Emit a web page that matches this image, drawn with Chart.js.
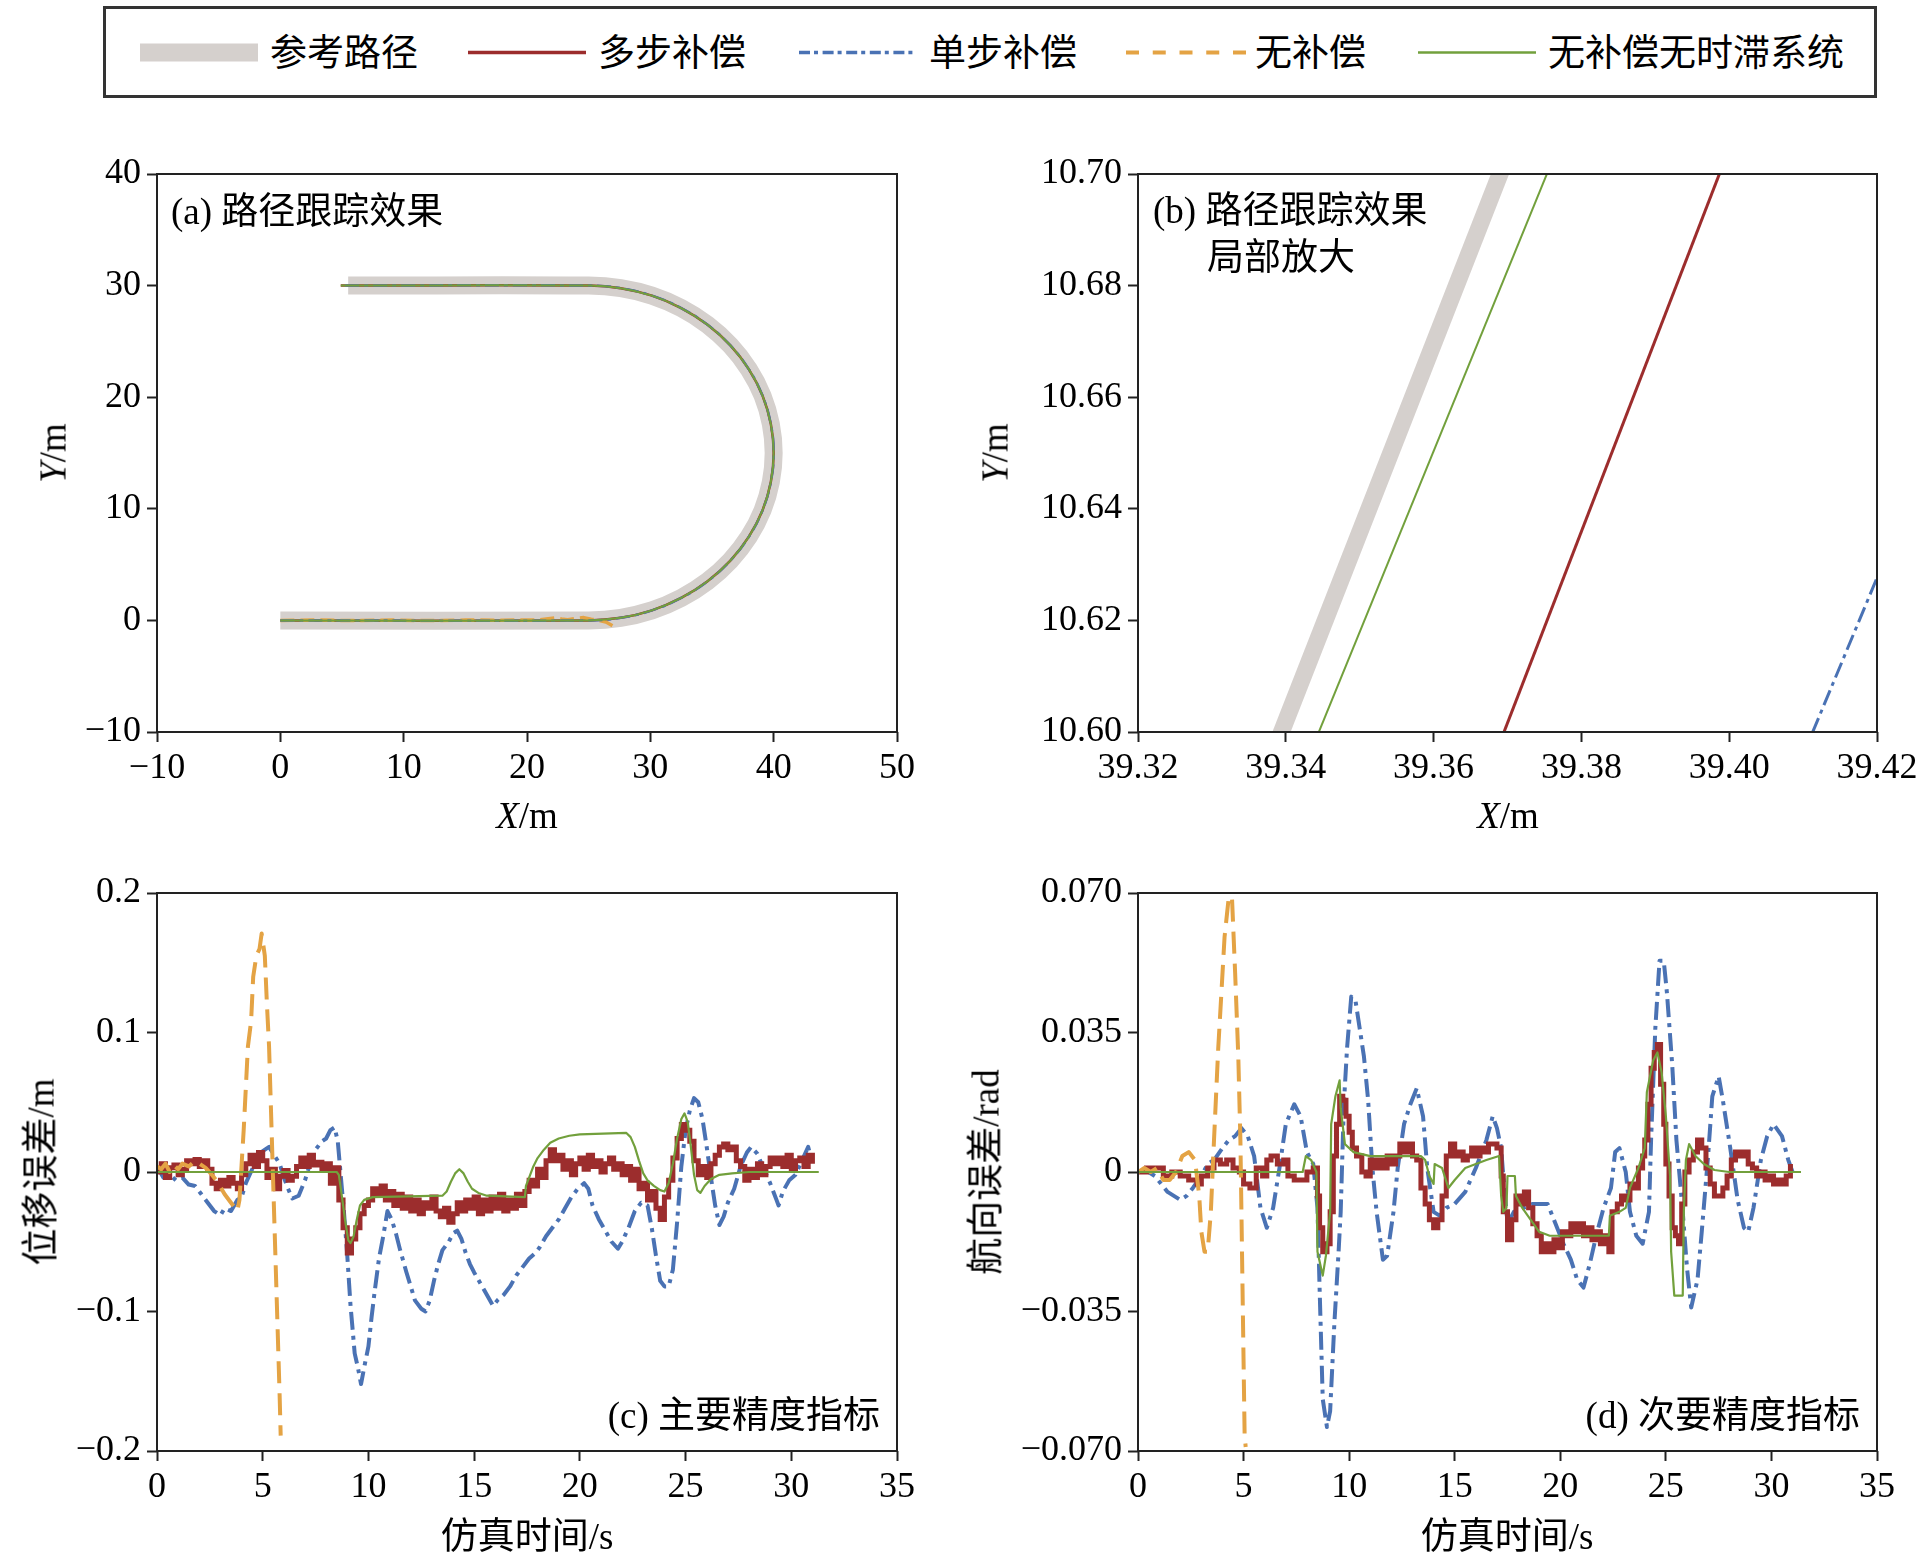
<!DOCTYPE html>
<html>
<head>
<meta charset="utf-8">
<script src="https://cdn.jsdelivr.net/npm/chart.js@4/dist/chart.umd.min.js"></script>
<style>
  html, body { margin:0; padding:0; background:#fff; }
  body { width:1923px; height:1559px; position:relative; overflow:hidden;
         font-family:'Liberation Serif','Noto Sans CJK SC',serif; color:#000; }
  canvas { position:absolute; }
  .t { position:absolute; white-space:nowrap; font-size:37px; line-height:1; transform:translateY(-50%); }
  .c { transform:translate(-50%,-50%); }
  .r90 { transform:translate(-50%,-50%) rotate(-90deg); }
  .rt { position:absolute; white-space:nowrap; font-size:37px; line-height:1; transform:translateY(-50%); text-align:right; }
  #legend { position:absolute; left:103px; top:6px; width:1774px; height:92px; box-sizing:border-box; border:3px solid #333; }
</style>
</head>
<body>

<div id="legend"></div>
<svg style="position:absolute;left:0;top:0" width="1923" height="110">
  <line x1="140" y1="52.5" x2="258" y2="52.5" stroke="#d5d0cd" stroke-width="18"/>
  <line x1="468" y1="52.5" x2="586" y2="52.5" stroke="#9c2d2d" stroke-width="3.5"/>
  <line x1="799" y1="52.5" x2="917" y2="52.5" stroke="#4a72b4" stroke-width="3.5" stroke-dasharray="11 4 4 4.6"/>
  <line x1="1126" y1="52.5" x2="1246" y2="52.5" stroke="#e4a344" stroke-width="4" stroke-dasharray="13 13.75"/>
  <line x1="1418" y1="52.5" x2="1536" y2="52.5" stroke="#72a03c" stroke-width="2.5"/>
</svg>
<div class="t" style="left:270px;top:52.5px">参考路径</div>
<div class="t" style="left:598px;top:52.5px">多步补偿</div>
<div class="t" style="left:929px;top:52.5px">单步补偿</div>
<div class="t" style="left:1255px;top:52.5px">无补偿</div>
<div class="t" style="left:1548px;top:52.5px">无补偿无时滞系统</div>

<canvas id="cA" width="940" height="720" style="left:0px;top:110px"></canvas>
<canvas id="cB" width="963" height="720" style="left:960px;top:110px"></canvas>
<canvas id="cC" width="940" height="719" style="left:0px;top:840px"></canvas>
<canvas id="cD" width="963" height="719" style="left:960px;top:840px"></canvas>

<div class="t" style="left:171px;top:211px">(a) 路径跟踪效果</div>
<div class="t" style="left:1153px;top:210px">(b) 路径跟踪效果</div>
<div class="t" style="left:1207px;top:257px">局部放大</div>
<div class="rt" style="right:1043px;top:1415px">(c) 主要精度指标</div>
<div class="rt" style="right:63px;top:1415px">(d) 次要精度指标</div>

<div class="t c" style="left:527px;top:815px"><i>X</i>/m</div>
<div class="t c" style="left:1508px;top:815px"><i>X</i>/m</div>
<div class="t r90" style="left:53px;top:453px"><i>Y</i>/m</div>
<div class="t r90" style="left:995px;top:453px"><i>Y</i>/m</div>
<div class="t c" style="left:527px;top:1536px">仿真时间/s</div>
<div class="t c" style="left:1507px;top:1536px">仿真时间/s</div>
<div class="t r90" style="left:41px;top:1172px">位移误差/m</div>
<div class="t r90" style="left:986px;top:1172px">航向误差/rad</div>

<script>
// ---------------- tick labels ----------------
const ticksA_X = [-10, 0, 10, 20, 30, 40, 50];
const labelsA_X = ['\u221210', '0', '10', '20', '30', '40', '50'];
const ticksA_Y = [-10, 0, 10, 20, 30, 40];
const labelsA_Y = ['\u221210', '0', '10', '20', '30', '40'];
const ticksB_X = [39.32, 39.34, 39.36, 39.38, 39.40, 39.42];
const labelsB_X = ['39.32', '39.34', '39.36', '39.38', '39.40', '39.42'];
const ticksB_Y = [10.60, 10.62, 10.64, 10.66, 10.68, 10.70];
const labelsB_Y = ['10.60', '10.62', '10.64', '10.66', '10.68', '10.70'];
const ticksT = [0, 5, 10, 15, 20, 25, 30, 35];
const labelsT = ['0', '5', '10', '15', '20', '25', '30', '35'];
const ticksC_Y = [-0.2, -0.1, 0, 0.1, 0.2];
const labelsC_Y = ['\u22120.2', '\u22120.1', '0', '0.1', '0.2'];
const ticksD_Y = [-0.07, -0.035, 0, 0.035, 0.07];
const labelsD_Y = ['\u22120.070', '\u22120.035', '0', '0.035', '0.070'];

// ---------------- (a) path tracking ----------------
const refPathX = [0, 25, 27.60, 30.13, 32.50, 34.64, 36.49, 37.99, 39.10, 39.77, 40, 39.77, 39.10, 37.99, 36.49, 34.64, 32.50, 30.13, 27.60, 25, 5.5];
const refPathY = [0, 0, 0.23, 0.90, 2.01, 3.51, 5.36, 7.50, 9.87, 12.40, 15, 17.60, 20.13, 22.50, 24.64, 26.49, 27.99, 29.10, 29.77, 30, 30];
const trackPathX = [0, 25, 27.60, 30.13, 32.50, 34.64, 36.49, 37.99, 39.10, 39.77, 40, 39.77, 39.10, 37.99, 36.49, 34.64, 32.50, 30.13, 27.60, 25, 4.9];
const trackPathY = [0, 0, 0.23, 0.90, 2.01, 3.51, 5.36, 7.50, 9.87, 12.40, 15, 17.60, 20.13, 22.50, 24.64, 26.49, 27.99, 29.10, 29.77, 30, 30];
const noCompPathX = [0, 3, 6, 9, 12, 15, 18, 21, 22.3, 22.8, 23.3, 24.0, 24.6, 25.2, 25.8, 26.4, 26.9, 27.3];
const noCompPathY = [0, 0.03, -0.02, 0.03, -0.02, 0.03, 0.02, 0.05, 0.22, 0.12, 0.05, 0.18, 0.25, 0.1, 0.02, -0.15, -0.45, -0.7];

// ---------------- (b) zoomed path ----------------
const zoomRefX = [39.3335, 39.3749];
const zoomRefY = [10.58, 10.72];
const zoomGreenX = [39.3383, 39.3815];
const zoomGreenY = [10.58, 10.72];
const zoomRedX = [39.3637, 39.4045];
const zoomRedY = [10.58, 10.72];
const zoomBlueX = [39.4050, 39.4302];
const zoomBlueY = [10.58, 10.66];

// ---------------- (c) displacement error ----------------
const tRedC = [0.0,0.2,0.4,0.6,0.8,1.0,1.2,1.4,1.6,1.8,2.0,2.2,2.4,2.6,2.8,3.0,3.2,3.4,3.6,3.8,4.0,4.2,4.4,4.6,4.8,5.0,5.2,5.4,5.6,5.8,6.0,6.2,6.4,6.6,6.8,7.0,7.2,7.4,7.6,7.8,8.0,8.2,8.4,8.6,8.8,9.0,9.2,9.4,9.6,9.8,10.0,10.2,10.4,10.6,10.8,11.0,11.2,11.4,11.6,11.8,12.0,12.2,12.4,12.6,12.8,13.0,13.2,13.4,13.6,13.8,14.0,14.2,14.4,14.6,14.8,15.0,15.2,15.4,15.6,15.8,16.0,16.2,16.4,16.6,16.8,17.0,17.2,17.4,17.6,17.8,18.0,18.2,18.4,18.6,18.8,19.0,19.2,19.4,19.6,19.8,20.0,20.2,20.4,20.6,20.8,21.0,21.2,21.4,21.6,21.8,22.0,22.2,22.4,22.6,22.8,23.0,23.2,23.4,23.6,23.8,24.0,24.2,24.4,24.6,24.8,25.0,25.2,25.4,25.6,25.8,26.0,26.2,26.4,26.6,26.8,27.0,27.2,27.4,27.6,27.8,28.0,28.2,28.4,28.6,28.8,29.0,29.2,29.4,29.6,29.8,30.0,30.2,30.4,30.6,30.8,31.0];
const vRedC = [0.000,0.006,-0.004,0.003,0.005,-0.002,0.002,0.008,0.006,0.009,0.004,0.008,0.002,-0.008,-0.012,-0.006,-0.010,-0.004,-0.008,-0.012,-0.002,0.006,0.012,0.004,0.014,0.008,-0.004,0.002,-0.012,-0.003,0.001,-0.006,-0.003,0.004,0.010,0.004,0.012,0.005,0.007,0.002,0.006,-0.008,0.003,-0.020,-0.040,-0.058,-0.048,-0.040,-0.030,-0.024,-0.020,-0.012,-0.016,-0.010,-0.020,-0.014,-0.024,-0.016,-0.026,-0.018,-0.028,-0.020,-0.030,-0.022,-0.026,-0.018,-0.028,-0.032,-0.026,-0.036,-0.030,-0.022,-0.028,-0.020,-0.026,-0.018,-0.030,-0.020,-0.028,-0.018,-0.026,-0.016,-0.028,-0.020,-0.026,-0.016,-0.024,-0.014,-0.006,-0.010,0.002,-0.004,0.008,0.016,0.008,0.012,0.002,0.008,-0.002,0.006,0.010,0.002,0.012,0.004,0.008,0.000,0.006,0.010,0.002,0.006,-0.002,0.004,-0.006,0.002,-0.012,-0.008,-0.020,-0.014,-0.026,-0.034,-0.018,-0.006,0.010,0.024,0.034,0.030,0.022,0.008,-0.002,0.004,-0.004,0.006,0.012,0.018,0.020,0.016,0.018,0.008,0.004,-0.006,0.002,-0.004,0.006,-0.002,0.004,0.010,0.006,0.010,0.004,0.012,0.002,0.008,0.010,0.004,0.012,0.006];

const tBlueC = [0.0,0.3,0.6,0.9,1.2,1.5,1.8,2.1,2.4,2.7,3.0,3.2,3.5,3.8,4.0,4.2,4.5,4.8,5.0,5.3,5.5,5.8,6.0,6.2,6.4,6.7,7.0,7.2,7.5,7.8,8.0,8.2,8.4,8.55,8.7,8.85,9.0,9.15,9.35,9.5,9.65,9.8,10.0,10.15,10.3,10.5,10.7,10.9,11.1,11.3,11.5,11.8,12.0,12.2,12.5,12.7,12.9,13.1,13.3,13.5,13.8,14.0,14.2,14.4,14.6,14.8,15.0,15.3,15.6,15.9,16.1,16.4,16.7,17.0,17.3,17.6,17.9,18.1,18.4,18.7,19.0,19.3,19.6,19.9,20.2,20.4,20.6,20.9,21.2,21.5,21.8,22.0,22.3,22.6,22.9,23.2,23.4,23.6,23.8,24.0,24.2,24.4,24.6,24.8,25.0,25.2,25.4,25.6,25.8,26.0,26.2,26.4,26.6,26.8,27.0,27.3,27.6,27.9,28.1,28.4,28.7,29.0,29.3,29.4,29.6,29.9,30.2,30.5,30.8,30.9];
const vBlueC = [0.004,-0.004,-0.002,-0.006,-0.004,-0.009,-0.010,-0.016,-0.022,-0.028,-0.031,-0.026,-0.028,-0.020,-0.018,-0.008,0.002,0.010,0.015,0.018,0.013,0.006,-0.004,-0.012,-0.019,-0.017,-0.006,0.004,0.016,0.022,0.024,0.030,0.032,0.022,-0.004,-0.030,-0.060,-0.095,-0.130,-0.140,-0.152,-0.140,-0.125,-0.104,-0.085,-0.062,-0.046,-0.028,-0.034,-0.044,-0.056,-0.072,-0.082,-0.092,-0.098,-0.100,-0.092,-0.078,-0.066,-0.056,-0.050,-0.044,-0.042,-0.048,-0.058,-0.066,-0.072,-0.080,-0.088,-0.096,-0.092,-0.088,-0.082,-0.074,-0.068,-0.062,-0.058,-0.054,-0.046,-0.040,-0.034,-0.026,-0.018,-0.012,-0.008,-0.012,-0.024,-0.034,-0.042,-0.050,-0.055,-0.050,-0.040,-0.028,-0.022,-0.024,-0.040,-0.060,-0.078,-0.082,-0.082,-0.070,-0.036,0.004,0.030,0.044,0.053,0.050,0.038,0.018,-0.004,-0.024,-0.038,-0.032,-0.022,-0.012,0.004,0.014,0.018,0.013,0.002,-0.008,-0.020,-0.024,-0.014,-0.006,-0.002,0.008,0.018,0.012];

const tGreenC = [0,8.5,8.6,8.75,8.9,9.05,9.15,9.3,9.45,9.6,9.8,10.2,13.5,13.7,13.9,14.1,14.3,14.5,14.7,14.9,15.2,15.6,17.4,17.45,17.6,17.8,18.0,18.3,18.6,19.0,19.5,20.0,22.2,22.4,22.6,22.8,23.0,23.2,23.5,23.8,24.0,24.2,24.4,24.6,24.8,24.95,25.1,25.25,25.4,25.55,25.7,25.9,26.2,26.6,27.2,28,31.3];
const vGreenC = [0,0,-0.002,-0.018,-0.035,-0.049,-0.051,-0.046,-0.034,-0.024,-0.020,-0.018,-0.017,-0.014,-0.007,-0.001,0.002,-0.001,-0.007,-0.012,-0.015,-0.017,-0.018,-0.010,-0.004,0.004,0.010,0.016,0.021,0.024,0.026,0.027,0.028,0.025,0.018,0.008,-0.001,-0.006,-0.010,-0.013,-0.014,-0.008,0.006,0.024,0.038,0.042,0.036,0.018,-0.002,-0.013,-0.015,-0.010,-0.005,-0.002,-0.001,0,0];

const tOrangeC = [0.0,0.2,0.4,0.6,0.8,1.0,1.2,1.5,1.8,2.0,2.3,2.6,2.9,3.2,3.5,3.8,3.9,4.0,4.1,4.2,4.3,4.45,4.55,4.7,4.85,4.95,5.1,5.2,5.3,5.4,5.5,5.6,5.7,5.8,5.85];
const vOrangeC = [0.004,0.002,0.006,0.000,0.005,0.002,0.006,0.004,0.008,0.006,0.003,-0.002,-0.008,-0.016,-0.022,-0.028,-0.020,0.005,0.030,0.060,0.090,0.108,0.140,0.155,0.160,0.171,0.155,0.120,0.090,0.040,-0.010,-0.060,-0.110,-0.160,-0.189];

// ---------------- (d) heading error ----------------
const tBlueD = [0.0,0.5,0.8,1.1,1.4,1.7,2.0,2.3,2.6,3.0,3.3,3.6,4.0,4.3,4.6,4.9,5.2,5.5,5.8,6.1,6.4,6.7,7.0,7.4,7.7,8.0,8.3,8.5,8.6,8.75,8.95,9.1,9.3,9.5,9.6,9.75,9.9,10.1,10.3,10.5,10.7,10.9,11.1,11.3,11.6,11.8,12.1,12.3,12.6,12.9,13.2,13.5,13.7,14.0,14.3,14.6,15.0,15.5,16.0,16.5,16.8,17.0,17.2,17.3,17.5,17.8,18.25,18.7,19.4,19.7,20.15,20.5,20.8,21.1,21.4,21.7,22.05,22.4,22.6,22.8,23.1,23.3,23.6,23.9,24.2,24.3,24.5,24.7,24.9,25.05,25.3,25.5,25.8,26.0,26.2,26.5,26.7,27.0,27.2,27.5,27.7,28.05,28.4,28.7,28.9,29.15,29.5,29.8,30.1,30.5,30.8,31.0];
const vBlueD = [0,0.000,-0.001,-0.003,-0.005,-0.006,-0.007,-0.006,-0.004,-0.001,0.002,0.003,0.006,0.008,0.009,0.011,0.009,0.004,-0.009,-0.014,-0.009,0.001,0.012,0.017,0.014,0.005,0.002,-0.009,-0.029,-0.057,-0.064,-0.060,-0.038,-0.020,-0.010,0.017,0.031,0.044,0.043,0.036,0.029,0.018,0.001,-0.010,-0.022,-0.021,-0.010,0.001,0.012,0.017,0.021,0.014,0.001,-0.010,-0.011,-0.009,-0.008,-0.005,0.001,0.008,0.014,0.011,0.006,-0.001,-0.013,-0.010,-0.009,-0.008,-0.008,-0.012,-0.018,-0.022,-0.027,-0.029,-0.023,-0.016,-0.009,-0.004,0.005,0.006,0.000,-0.010,-0.016,-0.018,-0.010,0.008,0.036,0.053,0.053,0.045,0.027,0.008,-0.010,-0.024,-0.034,-0.027,-0.015,0.004,0.019,0.024,0.018,0.006,-0.007,-0.014,-0.015,-0.009,0.003,0.009,0.012,0.009,0.003,0.000];

const tRedD = [0.0,0.4,0.8,1.2,1.6,2.0,2.4,2.8,3.0,3.3,3.6,3.9,4.2,4.5,4.8,5.0,5.3,5.6,5.9,6.1,6.3,6.6,6.9,7.1,7.4,7.7,8.0,8.3,8.5,8.6,8.75,8.95,9.1,9.25,9.4,9.55,9.7,9.85,10.0,10.15,10.35,10.6,10.8,11.0,11.2,11.4,11.6,11.8,12.0,12.2,12.4,12.6,12.8,13.0,13.2,13.4,13.6,13.8,14.0,14.2,14.4,14.6,14.8,15.0,15.2,15.4,15.6,15.8,16.0,16.2,16.4,16.6,16.8,17.0,17.2,17.3,17.5,17.7,17.9,18.1,18.3,18.5,18.7,18.9,19.1,19.3,19.5,19.7,19.9,20.1,20.3,20.5,20.7,20.9,21.1,21.3,21.5,21.7,21.9,22.1,22.3,22.45,22.7,22.9,23.1,23.3,23.5,23.7,23.9,24.0,24.15,24.3,24.45,24.6,24.75,24.9,25.0,25.15,25.3,25.45,25.6,25.75,25.9,26.1,26.3,26.5,26.7,26.9,27.1,27.3,27.5,27.7,27.9,28.1,28.3,28.5,28.7,28.9,29.1,29.3,29.5,29.7,29.9,30.1,30.3,30.5,30.7,30.9];
const vRedD = [0,0.001,0.001,-0.001,0.000,-0.001,-0.002,-0.003,-0.001,0.001,0.003,0.002,0.003,0.001,0.000,-0.003,-0.004,0.001,-0.001,0.003,0.004,0.002,0.003,-0.001,-0.002,-0.002,0.000,0.001,-0.006,-0.014,-0.020,-0.018,-0.010,0.004,0.012,0.019,0.018,0.014,0.010,0.006,0.004,0.000,-0.001,0.003,0.001,0.003,0.001,0.004,0.002,0.004,0.007,0.005,0.007,0.004,0.003,-0.004,-0.008,-0.012,-0.014,-0.012,-0.006,0.004,0.007,0.004,0.005,0.003,0.004,0.006,0.004,0.006,0.005,0.007,0.007,0.006,-0.001,-0.010,-0.017,-0.012,-0.006,-0.008,-0.005,-0.009,-0.013,-0.016,-0.020,-0.018,-0.020,-0.017,-0.019,-0.015,-0.016,-0.013,-0.015,-0.013,-0.016,-0.014,-0.017,-0.015,-0.018,-0.016,-0.020,-0.010,-0.008,-0.006,-0.007,-0.003,-0.004,0.001,0.004,0.008,0.017,0.026,0.030,0.032,0.022,0.012,0.002,-0.006,-0.014,-0.016,-0.018,-0.008,0.000,0.003,0.005,0.008,0.006,0.001,-0.003,-0.006,-0.006,-0.004,-0.001,0.003,0.005,0.004,0.005,0.002,0.001,-0.001,0.000,-0.002,-0.001,-0.003,-0.002,-0.003,-0.001,0.002];

const tGreenD = [0,7.8,7.95,8.2,8.45,8.5,8.75,8.9,9.1,9.15,9.35,9.55,9.6,9.8,10.2,11.0,13.4,13.6,13.8,14.0,14.05,14.4,14.7,15.0,15.5,16.0,16.5,17.1,17.2,17.3,17.45,17.5,17.85,17.9,18.2,18.6,19.0,19.5,22.3,22.35,22.8,23.1,23.3,23.7,24.0,24.1,24.4,24.6,24.8,25.0,25.2,25.25,25.4,25.8,25.85,25.95,26.1,26.4,26.8,27.3,28,31.4];
const vGreenD = [0,0,0.004,0.003,0,-0.020,-0.026,-0.021,-0.010,0.012,0.019,0.023,0.016,0.007,0.005,0.004,0.004,0.003,-0.001,-0.003,0.002,0.001,-0.004,-0.002,0.001,0.002,0.003,0.004,-0.006,-0.010,-0.009,-0.001,-0.001,-0.006,-0.009,-0.012,-0.015,-0.016,-0.016,-0.011,-0.010,-0.009,-0.004,0.001,0.006,0.020,0.028,0.030,0.025,0.014,-0.001,-0.020,-0.031,-0.031,-0.010,0.003,0.007,0.004,0.002,0.0005,0,0];

const tOrangeD = [0.0,0.3,0.6,0.9,1.2,1.5,1.8,2.1,2.4,2.7,2.9,3.0,3.15,3.3,3.45,3.6,3.8,3.95,4.1,4.3,4.45,4.6,4.75,4.85,4.95,5.05,5.1];
const vOrangeD = [0,0.001,0.000,0.001,-0.002,-0.002,0.000,0.004,0.005,0.003,-0.006,-0.015,-0.020,-0.020,-0.010,0.008,0.031,0.045,0.059,0.069,0.069,0.050,0.029,0.008,-0.029,-0.066,-0.069];

// ---------------- styles ----------------
const FONT = "'Liberation Serif', 'Times New Roman', serif";
const C_RED = '#9c2d2d', C_BLUE = '#4a72b4', C_ORANGE = '#e4a344', C_GREEN = '#72a03c', C_GRAY = '#d5d0cd';

function ds(xs, ys, color, width, dash, order, stepped, join, tension) {
  return {
    data: xs.map((x, i) => ({ x: x, y: ys[i] })),
    borderColor: color, backgroundColor: color, borderWidth: width,
    borderDash: dash || [], pointRadius: 0, pointHoverRadius: 0, fill: false,
    tension: tension || 0, stepped: stepped || false, order: order, clip: 0,
    borderCapStyle: 'butt', borderJoinStyle: join || 'round'
  };
}

const frame = {
  id: 'frame',
  afterDatasetsDraw(chart) {
    const a = chart.chartArea, c = chart.ctx;
    c.save();
    c.strokeStyle = '#222'; c.lineWidth = 2; c.setLineDash([]);
    c.strokeRect(a.left, a.top, a.right - a.left, a.bottom - a.top);
    c.restore();
  }
};

function axis(pos, min, max, vals, labels, size) {
  const s = {
    type: 'linear', position: pos, min: min, max: max,
    afterBuildTicks: sc => { sc.ticks = vals.map(v => ({ value: v })); },
    ticks: {
      autoSkip: false, maxRotation: 0, minRotation: 0,
      padding: pos === 'bottom' ? 5 : 6,
      color: '#000', font: { family: FONT, size: 36 },
      callback: (v, i) => labels[i]
    },
    grid: { display: true, drawOnChartArea: false, drawTicks: true, tickLength: 10, tickWidth: 2, tickColor: '#222', color: '#222' },
    border: { display: false },
    title: { display: false }
  };
  if (pos === 'bottom') s.afterFit = sc => { sc.height = size; };
  else s.afterFit = sc => { sc.width = size; };
  return s;
}

function makeChart(id, padTop, padRight, xAx, yAx, datasets) {
  return new Chart(document.getElementById(id), {
    type: 'line',
    data: { datasets: datasets },
    options: {
      responsive: false, animation: false, devicePixelRatio: 1, events: [],
      layout: { autoPadding: false, padding: { left: 0, right: padRight, top: padTop, bottom: 0 } },
      plugins: { legend: { display: false }, tooltip: { enabled: false }, title: { display: false } },
      scales: { x: xAx, y: yAx }
    },
    plugins: [frame]
  });
}

// (a)
makeChart('cA', 64, 43,
  axis('bottom', -10, 50, ticksA_X, labelsA_X, 98),
  axis('left', -10, 40, ticksA_Y, labelsA_Y, 157),
  [
    ds(refPathX, refPathY, C_GRAY, 18, [], 10, false, 'round', 0.4),
    ds(trackPathX, trackPathY, C_RED, 2.5, [], 9, false, 'round', 0.4),
    ds(noCompPathX, noCompPathY, C_ORANGE, 3.5, [14, 6], 8),
    ds(trackPathX, trackPathY, C_BLUE, 2.5, [14, 5, 4, 5], 7, false, 'round', 0.4),
    ds(trackPathX, trackPathY, C_GREEN, 2, [], 6, false, 'round', 0.4)
  ]);

// (b)
makeChart('cB', 64, 46,
  axis('bottom', 39.32, 39.42, ticksB_X, labelsB_X, 98),
  axis('left', 10.60, 10.70, ticksB_Y, labelsB_Y, 178),
  [
    ds(zoomRefX, zoomRefY, C_GRAY, 17, [], 10),
    ds(zoomRedX, zoomRedY, C_RED, 3, [], 9),
    ds(zoomBlueX, zoomBlueY, C_BLUE, 3, [16, 5, 4, 5], 8),
    ds(zoomGreenX, zoomGreenY, C_GREEN, 2, [], 7)
  ]);

// (c)
makeChart('cC', 53, 43,
  axis('bottom', 0, 35, ticksT, labelsT, 108),
  axis('left', -0.2, 0.2, ticksC_Y, labelsC_Y, 157),
  [
    ds(tBlueC, vBlueC, C_BLUE, 4, [18, 6, 4, 6], 9),
    ds(tRedC, vRedC, C_RED, 5, [], 8, true, 'miter'),
    ds(tOrangeC, vOrangeC, C_ORANGE, 4, [22, 10], 7),
    ds(tGreenC, vGreenC, C_GREEN, 2.2, [], 6)
  ]);

// (d)
makeChart('cD', 53, 46,
  axis('bottom', 0, 35, ticksT, labelsT, 108),
  axis('left', -0.07, 0.07, ticksD_Y, labelsD_Y, 178),
  [
    ds(tBlueD, vBlueD, C_BLUE, 4, [18, 6, 4, 6], 9),
    ds(tRedD, vRedD, C_RED, 5, [], 8, true, 'miter'),
    ds(tOrangeD, vOrangeD, C_ORANGE, 4, [22, 10], 7),
    ds(tGreenD, vGreenD, C_GREEN, 2.2, [], 6)
  ]);
</script>
</body>
</html>
